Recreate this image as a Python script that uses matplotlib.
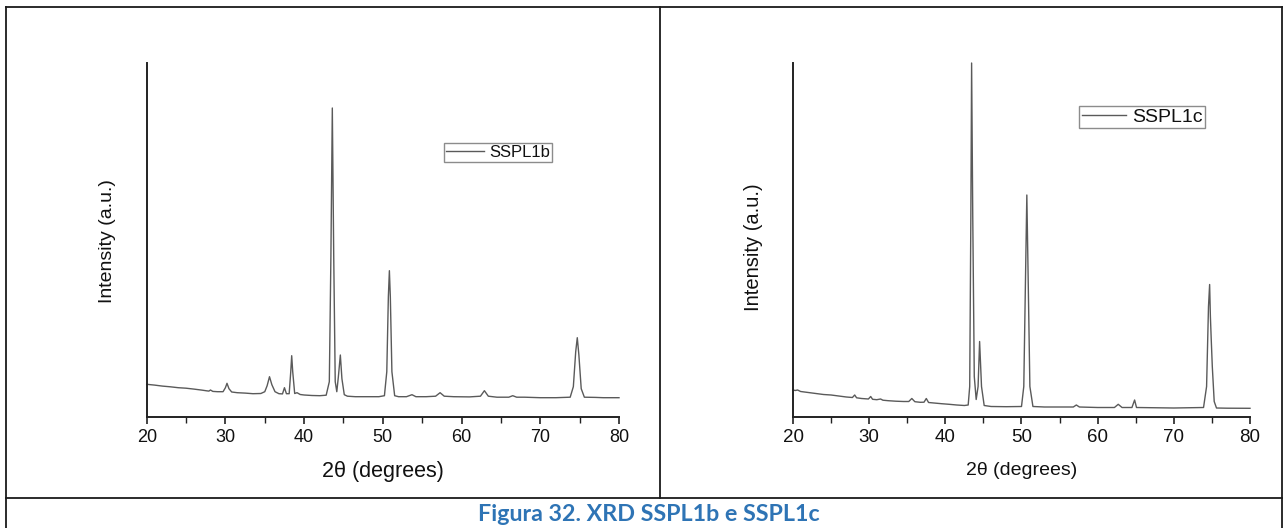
import matplotlib
matplotlib.use('Agg')
import matplotlib.pyplot as plt
from matplotlib.lines import Line2D

# ---------------- data ----------------
sspl1b_2theta = [20.0, 20.5, 21.0, 22.0, 23.0, 24.0, 25.0, 26.0, 27.0, 27.6, 27.9, 28.1, 28.4,
                 29.0, 29.7, 30.0, 30.2, 30.45, 30.8, 31.5, 32.5, 33.5, 34.5, 35.0, 35.3, 35.6,
                 35.9, 36.3, 36.8, 37.25, 37.5, 37.75, 38.1, 38.3, 38.42, 38.55, 38.8, 39.1, 39.5,
                 40.0, 41.0, 42.0, 42.8, 43.2, 43.4, 43.58, 43.76, 43.95, 44.15, 44.35, 44.6, 44.8,
                 45.1, 45.5, 46.5, 48.0, 49.5, 50.2, 50.5, 50.7, 50.83, 50.95, 51.15, 51.5, 52.0,
                 53.0, 53.7, 54.2, 55.5, 56.7, 57.27, 57.8, 59.0, 61.0, 62.4, 62.9, 63.4, 64.5,
                 66.0, 66.5, 67.0, 68.0, 70.0, 72.0, 73.8, 74.2, 74.5, 74.7, 74.9, 75.2, 75.6,
                 77.0, 78.0, 80.0]
sspl1b_intensity = [32.4, 32.0, 31.6, 30.6, 29.9, 29.0, 28.5, 27.6, 26.6, 25.9, 25.6, 26.7, 25.3,
                    25.0, 25.0, 29.0, 33.4, 28.0, 24.7, 24.0, 23.6, 23.0, 23.2, 25.0, 31.0, 40.0,
                    32.0, 25.0, 23.0, 22.8, 29.0, 23.0, 23.0, 45.0, 61.0, 45.0, 23.2, 24.0, 22.2,
                    21.7, 21.2, 21.0, 21.5, 35.0, 160.0, 308.7, 160.0, 35.0, 25.0, 40.0, 61.7, 38.0,
                    22.0, 20.5, 20.0, 20.0, 20.0, 21.0, 45.0, 120.0, 146.0, 120.0, 45.0, 21.0, 20.0,
                    20.0, 22.0, 20.0, 20.0, 20.5, 24.0, 20.5, 20.0, 19.8, 20.5, 26.0, 20.5, 19.5,
                    19.5, 21.0, 19.5, 19.5, 19.0, 19.0, 19.5, 30.0, 65.0, 79.0, 62.0, 28.0, 19.5,
                    19.3, 19.0, 19.0]

sspl1c_2theta = [20.0, 20.3, 20.6, 21.0, 21.5, 22.0, 23.0, 24.0, 25.0, 26.0, 27.0, 27.8, 28.1,
                 28.35, 29.0, 29.9, 30.2, 30.45, 31.0, 31.5, 31.8, 32.5, 33.5, 34.5, 35.2, 35.6,
                 36.0, 36.7, 37.2, 37.5, 37.8, 38.5, 39.5, 40.5, 41.5, 42.5, 43.0, 43.2, 43.35,
                 43.45, 43.6, 43.8, 44.05, 44.3, 44.5, 44.75, 45.1, 46.0, 48.0, 50.0, 50.3, 50.55,
                 50.7, 50.85, 51.1, 51.5, 53.0, 55.0, 56.8, 57.2, 57.6, 60.0, 62.2, 62.7, 63.2,
                 64.5, 64.85, 65.1, 67.0, 70.0, 73.9, 74.3, 74.55, 74.7, 74.8, 74.9, 75.05, 75.3,
                 75.6, 77.0, 80.0]
sspl1c_intensity = [26.5, 26.0, 26.5, 25.0, 24.5, 24.0, 23.0, 22.0, 21.5, 20.5, 19.5, 19.0, 21.5,
                    18.7, 18.0, 17.5, 20.0, 17.2, 16.8, 17.5, 16.3, 15.8, 15.3, 15.0, 15.0, 18.0,
                    14.8, 14.2, 14.3, 18.0, 14.0, 13.5, 12.8, 12.2, 11.5, 11.0, 11.5, 30.0, 200.0,
                    353.5, 200.0, 40.0, 17.0, 30.0, 75.0, 30.0, 11.0, 10.0, 9.8, 10.0, 30.0, 150.0,
                    221.5, 150.0, 30.0, 10.0, 9.5, 9.5, 9.5, 11.5, 9.5, 9.0, 9.0, 12.2, 9.0,
                    9.0, 16.5, 9.0, 8.8, 8.5, 9.0, 30.0, 110.0, 132.0, 100.0, 79.2, 50.0, 15.0,
                    8.5, 8.3, 8.2]

x_ticks = [20, 30, 40, 50, 60, 70, 80]
series_labels = ['SSPL1b', 'SSPL1c']
x_label = '2\u03b8 (degrees)'
y_label = 'Intensity (a.u.)'
caption = 'Figura 32. XRD SSPL1b e SSPL1c'

# ---------------- figure ----------------
W, H = 1287, 528
plt.rcParams['font.family'] = ['Liberation Sans', 'DejaVu Sans']
fig = plt.figure(figsize=(W / 100, H / 100), dpi=100)
fig.patch.set_facecolor('white')


def px_rect(l, r, t, b):
    return [l / W, (H - b) / H, (r - l) / W, (b - t) / H]


def px(x, y):
    return x / W, 1 - y / H


line_col = '#5a5a5a'

panels = [
    dict(rect=px_rect(146.7, 619, 63, 416.7), ytop=353.7, x=sspl1b_2theta, y=sspl1b_intensity,
         label=series_labels[0], tick_fs=13, xl_fs=15.5, yl_fs=14, xl_y=-0.155,
         yl_pos=(-0.084, 0.497), leg_fs=12, leg_pos=(0.744, 0.7475), handlelen=2.25),
    dict(rect=px_rect(793, 1250, 63, 416.5), ytop=353.5, x=sspl1c_2theta, y=sspl1c_intensity,
         label=series_labels[1], tick_fs=13.5, xl_fs=14, yl_fs=14.5, xl_y=-0.153,
         yl_pos=(-0.0862, 0.4795), leg_fs=14, leg_pos=(0.764, 0.847), handlelen=2.3),
]

for p in panels:
    ax = fig.add_axes(p['rect'])
    ax.plot(p['x'], p['y'], color=line_col, lw=1.0, label=p['label'], clip_on=False)
    ax.set_xlim(20, 80)
    ax.set_ylim(0, p['ytop'])
    for s in ('top', 'right'):
        ax.spines[s].set_visible(False)
    for s in ('left', 'bottom'):
        ax.spines[s].set_linewidth(1.4)
        ax.spines[s].set_color('#222222')
    ax.set_yticks([])
    ax.set_xticks(x_ticks)
    ax.set_xticks(range(25, 80, 10), minor=True)
    ax.tick_params(axis='x', which='major', direction='out', length=5, width=1.2,
                   labelsize=p['tick_fs'], pad=4, color='#222222', labelcolor='#111111')
    ax.tick_params(axis='x', which='minor', direction='out', length=4, width=1.0, color='#222222')
    ax.set_xlabel(x_label, fontsize=p['xl_fs'], color='#111111')
    ax.xaxis.set_label_coords(0.5, p['xl_y'])
    ax.xaxis.label.set_va('center')
    ax.set_ylabel(y_label, fontsize=p['yl_fs'], color='#111111')
    ax.yaxis.set_label_coords(*p['yl_pos'])
    ax.yaxis.label.set_va('center')
    leg = ax.legend(loc='center', bbox_to_anchor=p['leg_pos'], fontsize=p['leg_fs'],
                    frameon=True, fancybox=False, framealpha=1, edgecolor='#8c8c8c',
                    borderpad=0.12, handlelength=p['handlelen'], handletextpad=0.3,
                    borderaxespad=0)
    leg.get_frame().set_linewidth(1.0)
    for t in leg.get_texts():
        t.set_color('#111111')

# ---------------- table borders ----------------
def hline(y, x0, x1):
    fig.add_artist(Line2D([x0 / W, x1 / W], [1 - y / H, 1 - y / H], color='#1a1a1a', lw=1.3))


def vline(x, y0, y1):
    fig.add_artist(Line2D([x / W, x / W], [1 - y0 / H, 1 - y1 / H], color='#1a1a1a', lw=1.3))


hline(6.7, 6, 1282)
hline(498, 6, 1282)
vline(6, 6.7, 528)
vline(1282, 6.7, 528)
vline(660, 6.7, 498)

# ---------------- caption ----------------
cap = fig.text(*px(649, 521), caption, ha='center', va='baseline', fontsize=16,
               fontweight='bold', color='#2E74B5', family=['Lato', 'DejaVu Sans'])
fig.canvas.draw()
bb = cap.get_window_extent()
cap.set_fontsize(16 * 343 / bb.width)

fig.savefig('out.png', dpi=100, facecolor='white')
